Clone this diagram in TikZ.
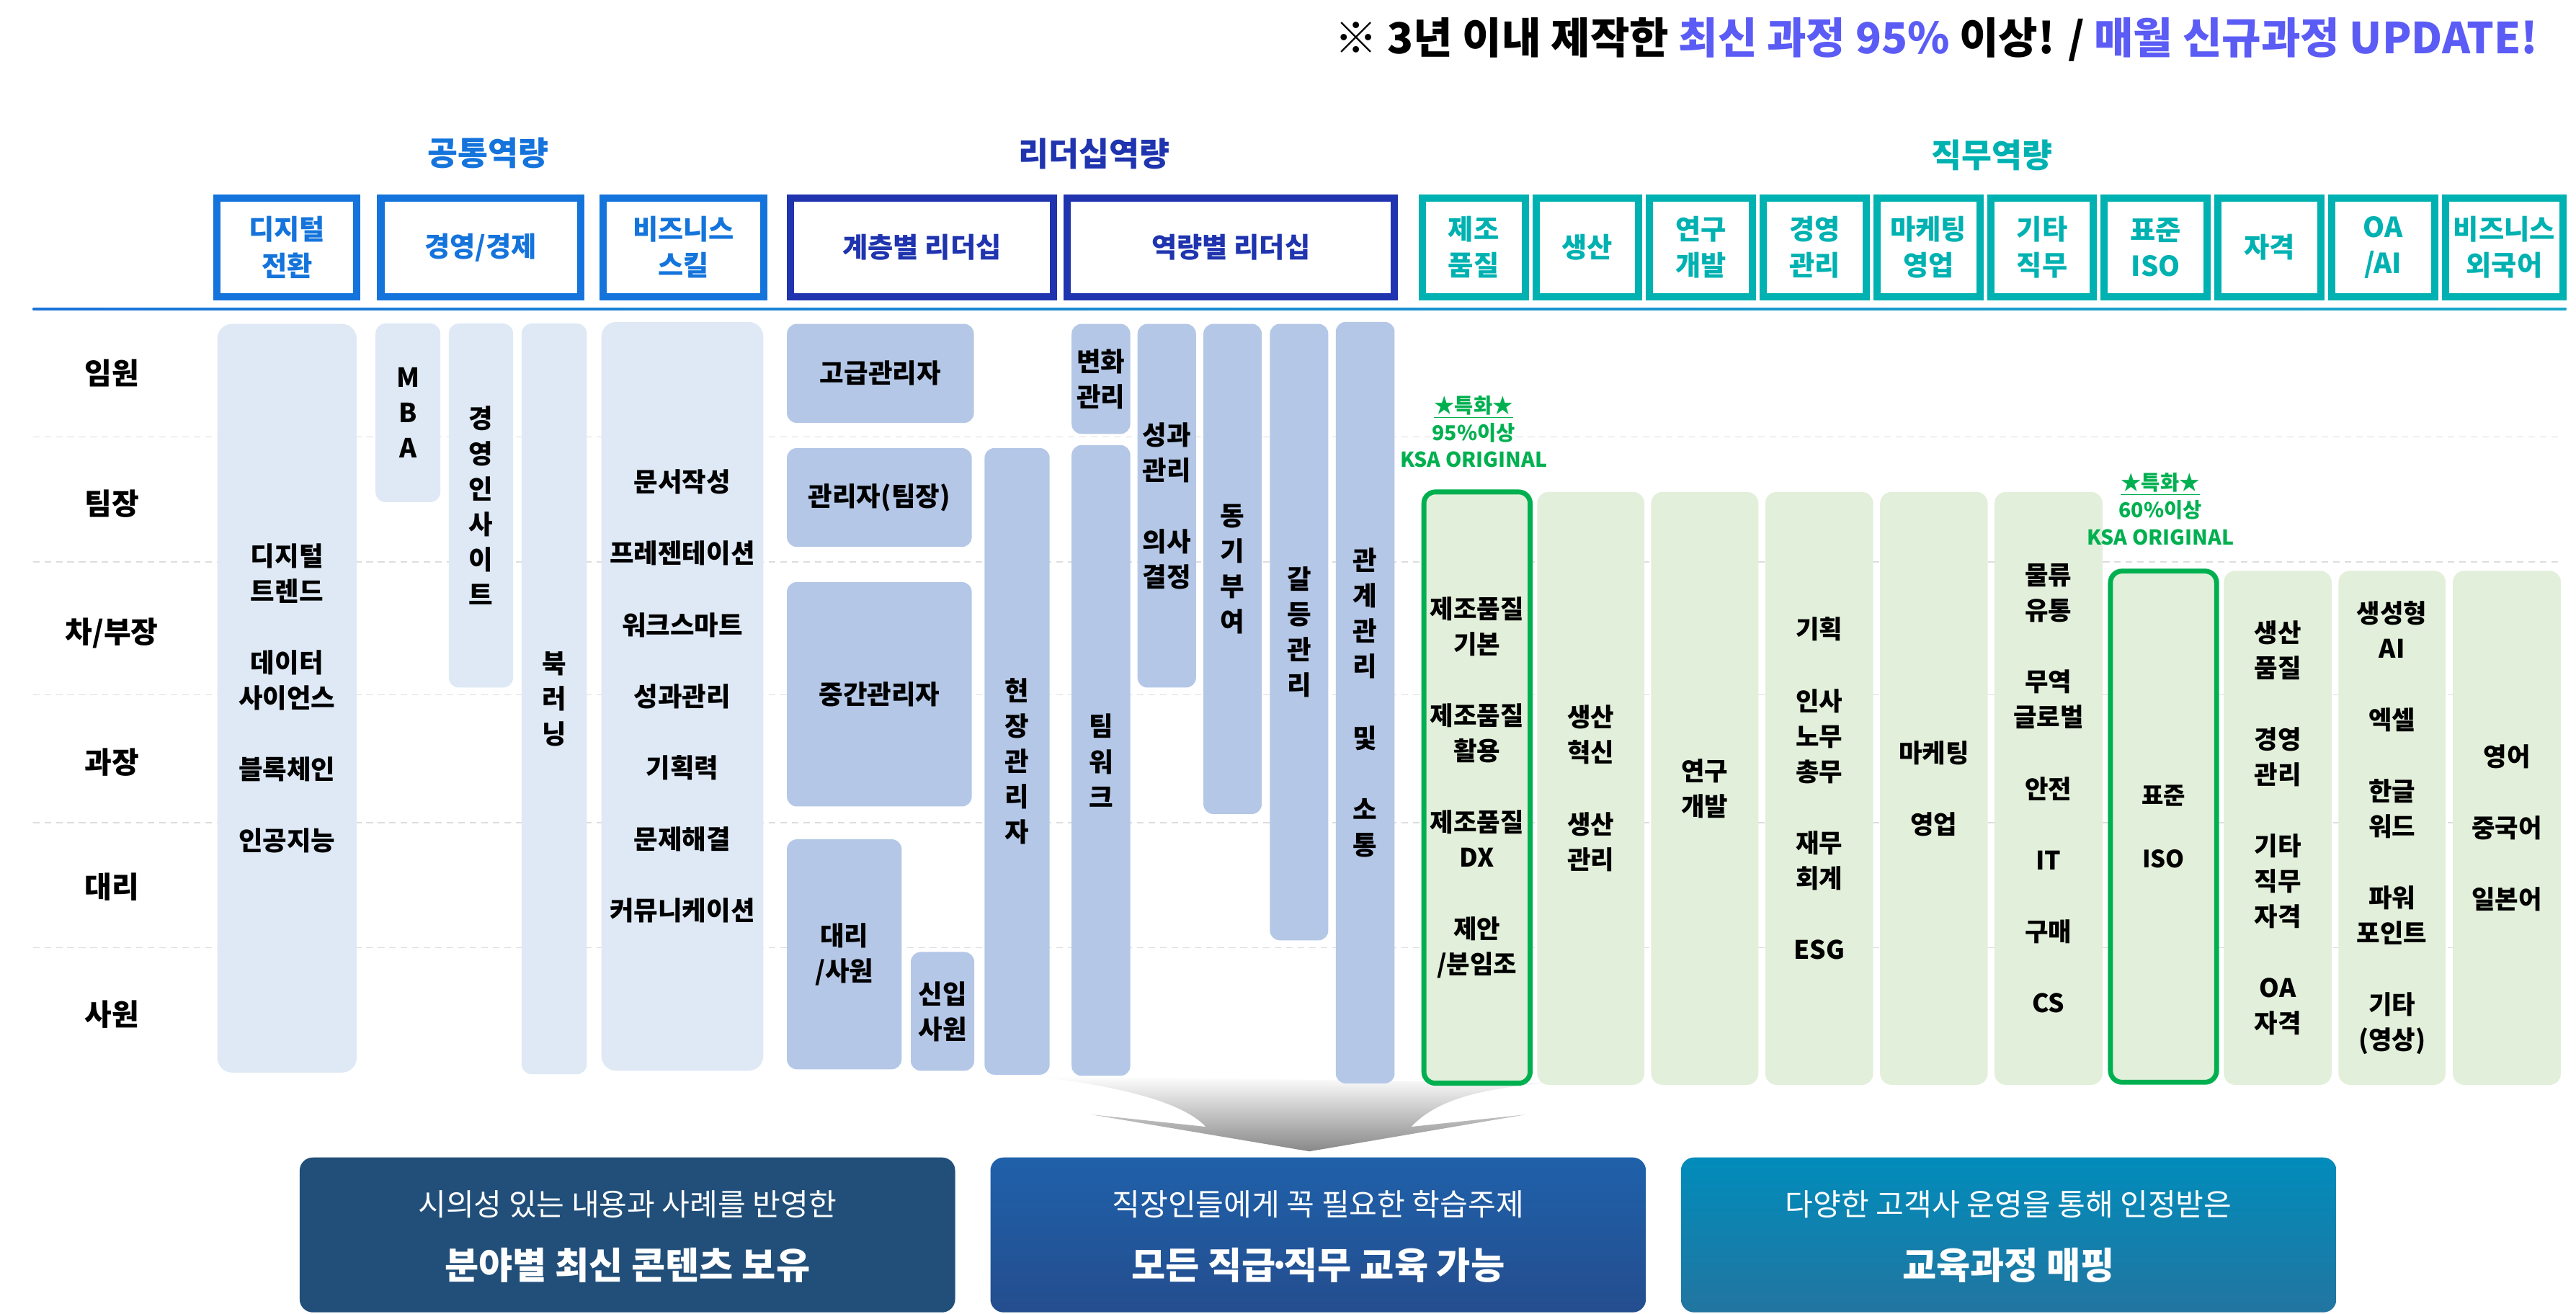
\documentclass[tikz,border=0pt]{standalone}
\usepackage{fontspec}
\setmainfont{Noto Sans CJK KR}
\definecolor{cA}{HTML}{1474DC}
\definecolor{cB}{HTML}{1F34AE}
\definecolor{cC}{HTML}{00B1B1}
\definecolor{fA}{HTML}{DEE9F5}
\definecolor{fB}{HTML}{B4C7E7}
\definecolor{fC}{HTML}{E2EFDA}
\definecolor{kgreen}{HTML}{00B050}
\definecolor{purp}{HTML}{5B5BF5}
\definecolor{dashc}{HTML}{DDDDDD}
\definecolor{lineL}{HTML}{1A73D9}
\definecolor{lineR}{HTML}{19A9C9}
\definecolor{botA}{HTML}{214F79}
\definecolor{botBt}{HTML}{1F61AA}
\definecolor{botBb}{HTML}{244D8E}
\definecolor{botCt}{HTML}{018CBB}
\definecolor{botCb}{HTML}{2275A0}
\definecolor{arrowgray}{HTML}{888888}
\begin{document}
\begin{tikzpicture}[x=1pt,y=-1pt,
  rowlab/.style={font=\fontsize{18}{22}\selectfont\bfseries, inner sep=0pt},
  gtitle/.style={font=\fontsize{20}{24}\selectfont\bfseries, inner sep=0pt},
  hdr/.style={draw, line width=4.4pt, fill=white, inner sep=0pt, align=center, minimum height=60pt, font=\fontsize{16.8}{22}\selectfont\bfseries},
  hA/.style={hdr, draw=cA, text=cA},
  hB/.style={hdr, draw=cB, text=cB},
  hC/.style={hdr, draw=cC, text=cC, minimum width=62.6pt},
  body/.style={inner sep=0pt, align=center, text=black, font=\fontsize{16}{21.5}\selectfont\bfseries},
  bA/.style={body, fill=fA, rounded corners=6pt},
  bB/.style={body, fill=fB, rounded corners=6pt},
  bC/.style={body, fill=fC, rounded corners=7pt, font=\fontsize{15.5}{21.5}\selectfont\bfseries},
  bG/.style={bC, draw=kgreen, line width=3pt},
  glab/.style={inner sep=0pt, align=center, text=kgreen, font=\fontsize{12.5}{16.5}\selectfont\bfseries},
  dashline/.style={draw=dashc, line width=0.8pt, dash pattern=on 4pt off 3pt},
  bbox/.style={draw=none, rounded corners=8pt, minimum width=399pt, minimum height=94.3pt, inner sep=0pt},
  btA/.style={inner sep=0pt, text=white, font=\fontsize{18.5}{22}\selectfont},
  btB/.style={inner sep=0pt, text=white, font=\fontsize{22.5}{26}\selectfont\bfseries}
]
\useasboundingbox (0,0) rectangle (1568,799.6);

% top header
\node[anchor=east, inner sep=0pt, font=\fontsize{26}{30}\selectfont\bfseries] (toptext) at (1545,24)
  {※ 3년 이내 제작한 \textcolor{purp}{최신 과정 95\%} 이상! / \textcolor{purp}{매월 신규과정 UPDATE!}};

% group titles
\node[gtitle, text=cA] (g1) at (297,93) {공통역량};
\node[gtitle, text=cB] (g2) at (666,93.6) {리더십역량};
\node[gtitle, text=cC] (g3) at (1212.5,94.3) {직무역량};

% header boxes
\node[hA, minimum width=85.2pt] (hdig) at (174.7,150.6) {디지털\\전환};
\node[hA, minimum width=121.5pt] (hmgt) at (292.55,150.6) {경영/경제};
\node[hA, minimum width=97.8pt] (hbiz) at (416.1,150.6) {비즈니스\\스킬};
\node[hB, minimum width=160.3pt] (hlay) at (561.15,150.6) {계층별 리더십};
\node[hB, minimum width=199.1pt] (hcomp) at (749.25,150.6) {역량별 리더십};
\node[hC] (j1) at (897,150.6) {제조\\품질};
\node[hC] (j2) at (966.2,150.6) {생산};
\node[hC] (j3) at (1035.4,150.6) {연구\\개발};
\node[hC] (j4) at (1104.6,150.6) {경영\\관리};
\node[hC] (j5) at (1173.8,150.6) {마케팅\\영업};
\node[hC] (j6) at (1243,150.6) {기타\\직무};
\node[hC] (j7) at (1312.2,150.6) {표준\\ISO};
\node[hC] (j8) at (1381.4,150.6) {자격};
\node[hC] (j9) at (1450.6,150.6) {OA\\/AI};
\node[hC, minimum width=71.6pt] (j10) at (1524.3,150.6) {비즈니스\\외국어};

% separator line
\shade[left color=lineL, right color=lineR] (20,187.4) rectangle (1562,188.8);

% row labels
\node[rowlab] (r1) at (68,227) {임원};
\node[rowlab] (r2) at (68,306.6) {팀장};
\node[rowlab] (r3) at (68,385.7) {차/부장};
\node[rowlab] (r4) at (68,464) {과장};
\node[rowlab] (r5) at (68,540) {대리};
\node[rowlab] (r6) at (68,617.6) {사원};

% dashed row separators
\foreach \yy in {266,342,423,501,577} {\draw[dashline] (20,\yy) -- (1558,\yy);}

% big arrow
\shade[top color=white, bottom color=arrowgray]
  (627.5,655) .. controls (672,660) and (718,669) .. (734,686)
  -- (664.4,678.6) -- (797,701) -- (928.4,678.6) -- (859,686)
  .. controls (875,669) and (902,663) .. (940.7,659.4) -- cycle;

% common competency columns
\node[bA, rounded corners=9pt, minimum width=84.8pt, minimum height=455.8pt] (dig) at (174.7,425.1)
  {디지털\\트렌드\\[22pt]데이터\\사이언스\\[22pt]블록체인\\[22pt]인공지능};
\node[bA, minimum width=39.4pt, minimum height=108.7pt] (mba) at (248.3,251.35) {M\\B\\A};
\node[bA, minimum width=39.1pt, minimum height=221.6pt] (ins) at (292.75,307.8) {경\\영\\인\\사\\이\\트};
\node[bA, minimum width=39.7pt, minimum height=457pt] (book) at (337.35,425.5) {북\\러\\닝};
\node[bA, rounded corners=9pt, minimum width=98.5pt, minimum height=455.9pt] (biz) at (415.35,423.95)
  {문서작성\\[22pt]프레젠테이션\\[22pt]워크스마트\\[22pt]성과관리\\[22pt]기획력\\[22pt]문제해결\\[22pt]커뮤니케이션};

% leadership columns
\node[bB, minimum width=113.8pt, minimum height=60.3pt] (senior) at (535.9,227.35) {고급관리자};
\node[bB, minimum width=112.5pt, minimum height=60.2pt] (mgr) at (535.25,302.9) {관리자(팀장)};
\node[bB, minimum width=112.5pt, minimum height=136.6pt] (mid) at (535.25,422.7) {중간관리자};
\node[bB, minimum width=69.8pt, minimum height=140pt] (daeri) at (513.9,581) {대리\\/사원};
\node[bB, minimum width=38.6pt, minimum height=72.3pt] (newb) at (573.7,615.75) {신입\\사원};
\node[bB, minimum width=39.6pt, minimum height=381.5pt] (field) at (619.1,463.55) {현\\장\\관\\리\\자};
\node[bB, minimum width=35.7pt, minimum height=67pt] (chg) at (670.15,230.7) {변화\\관리};
\node[bB, minimum width=35.7pt, minimum height=384pt] (team) at (670.15,463) {팀\\워\\크};
\node[bB, minimum width=35.6pt, minimum height=221.4pt] (perf) at (710.2,307.9) {성과\\관리\\[22pt]의사\\결정};
\node[bB, minimum width=35.5pt, minimum height=298.4pt] (motiv) at (750.25,346.4) {동\\기\\부\\여};
\node[bB, minimum width=35.5pt, minimum height=375.3pt] (confl) at (790.75,384.85) {갈\\등\\관\\리};
\node[bB, minimum width=35.8pt, minimum height=463.6pt] (rel) at (831,427.8) {관\\계\\관\\리\\[22pt]및\\[22pt]소\\통};

% job columns
\node[bG, minimum width=64.7pt, minimum height=360pt] (mfg) at (899.05,479.5)
  {제조품질\\기본\\[22pt]제조품질\\활용\\[22pt]제조품질\\DX\\[22pt]제안\\/분임조};
\node[bC, minimum width=65.2pt, minimum height=361pt] (prod) at (968.3,480) {생산\\혁신\\[22pt]생산\\관리};
\node[bC, minimum width=65.3pt, minimum height=361pt] (rnd) at (1037.65,480) {연구\\개발};
\node[bC, minimum width=65.7pt, minimum height=361pt] (mgmt) at (1107.35,480)
  {기획\\[22pt]인사\\노무\\총무\\[22pt]재무\\회계\\[22pt]ESG};
\node[bC, minimum width=65.5pt, minimum height=361pt] (mkt) at (1177.15,480) {마케팅\\[22pt]영업};
\node[bC, minimum width=65.8pt, minimum height=361pt] (etc) at (1246.9,480)
  {물류\\유통\\[22pt]무역\\글로벌\\[22pt]안전\\[22pt]IT\\[22pt]구매\\[22pt]CS};
\node[bG, minimum width=64.6pt, minimum height=311.2pt, font=\fontsize{14.5}{21.5}\selectfont\bfseries] (iso) at (1316.9,503.3)
  {표준\\[17pt]ISO};
\node[bC, minimum width=65.6pt, minimum height=313pt] (cert) at (1386.4,504)
  {생산\\품질\\[22pt]경영\\관리\\[22pt]기타\\직무\\자격\\[22pt]OA\\자격};
\node[bC, minimum width=65.2pt, minimum height=313pt] (oa) at (1456,504)
  {생성형\\AI\\[22pt]엑셀\\[22pt]한글\\워드\\[22pt]파워\\포인트\\[22pt]기타\\(영상)};
\node[bC, minimum width=65.8pt, minimum height=313pt] (lang) at (1525.9,504)
  {영어\\[22pt]중국어\\[22pt]일본어};

% green labels
\node[glab] (k1) at (897,262.9) {\underline{★특화★}\\95\%이상\\KSA ORIGINAL};
\node[glab] (k2) at (1315,310) {\underline{★특화★}\\60\%이상\\KSA ORIGINAL};

% bottom boxes
\node[bbox, fill=botA] (b1) at (381.9,751.85) {};
\node[bbox, top color=botBt, bottom color=botBb] (b2) at (802.35,751.85) {};
\node[bbox, top color=botCt, bottom color=botCb] (b3) at (1222.65,751.85) {};
\node[btA] (b1a) at (381.9,733) {시의성 있는 내용과 사례를 반영한};
\node[btB] (b1b) at (381.9,770.5) {분야별 최신 콘텐츠 보유};
\node[btA] (b2a) at (802.35,733) {직장인들에게 꼭 필요한 학습주제};
\node[btB] (b2b) at (802.35,770.5) {모든 직급\kern-0.2em·\kern-0.2em직무 교육 가능};
\node[btA] (b3a) at (1222.65,733) {다양한 고객사 운영을 통해 인정받은};
\node[btB] (b3b) at (1222.65,770.5) {교육과정 매핑};
\end{tikzpicture}
\end{document}
